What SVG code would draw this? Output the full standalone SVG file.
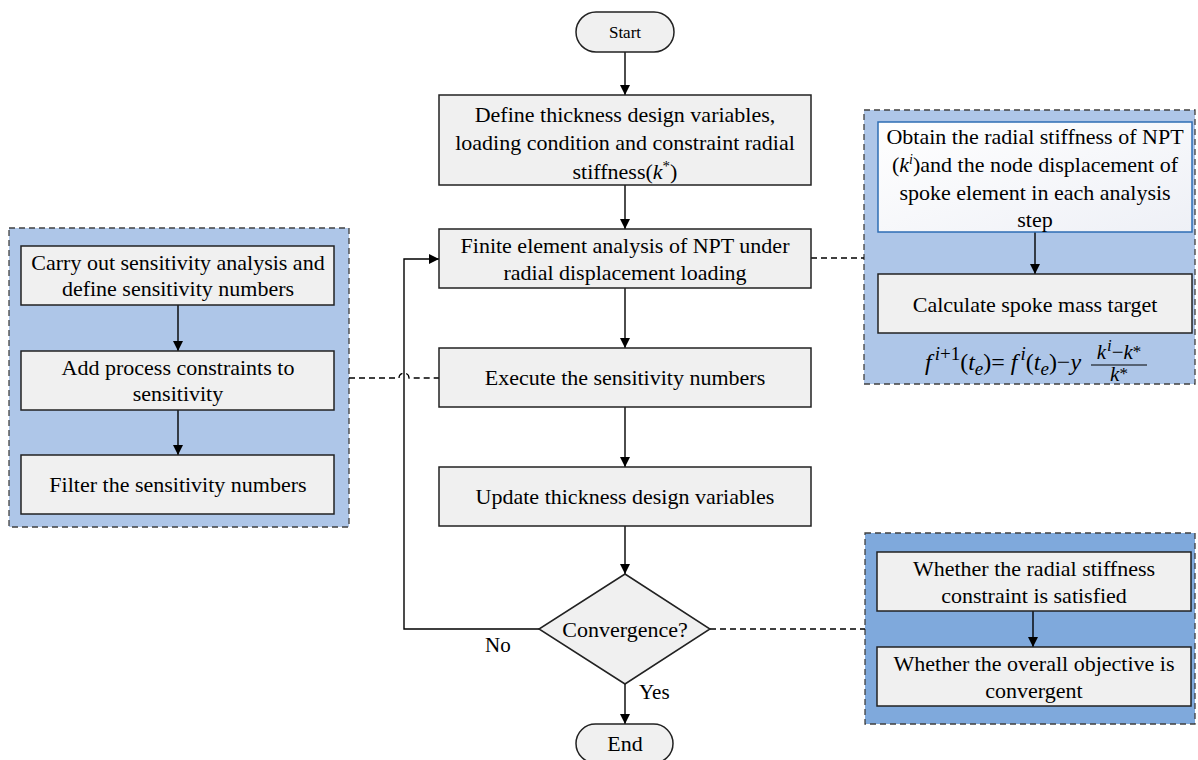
<svg xmlns="http://www.w3.org/2000/svg" width="1198" height="760" viewBox="0 0 1198 760">
<defs>
<marker id="ah" viewBox="0 0 10 10" refX="10" refY="5" markerWidth="10" markerHeight="10" markerUnits="userSpaceOnUse" orient="auto">
<path d="M0,0 L10,5 L0,10 z" fill="#000"/>
</marker>
<linearGradient id="wg" x1="0" y1="0" x2="1" y2="1">
<stop offset="0" stop-color="#ffffff"/>
<stop offset="1" stop-color="#eef0f6"/>
</linearGradient>
<style>
text{font-family:"Liberation Serif","Times New Roman",serif;fill:#000;}
.t{font-size:22px;text-anchor:middle;}
.box{fill:#f0f0f0;stroke:#222;stroke-width:1.5;}
.grp{stroke:#404040;stroke-width:1.3;stroke-dasharray:6,4;}
.g1{fill:#aec6e8;}
.g2{fill:#7fa9dc;}
.ln{fill:none;stroke:#000;stroke-width:1.4;}
.ar{fill:none;stroke:#000;stroke-width:1.4;marker-end:url(#ah);}
.da{fill:none;stroke:#000;stroke-width:1.3;stroke-dasharray:6,4;}
.it{font-style:italic;}
</style>
</defs>

<g id="group-left">
<rect class="grp g1" x="9" y="228" width="340" height="299"/>
</g>
<g id="group-top-right">
<rect class="grp g1" x="864" y="110" width="331" height="274"/>
</g>
<g id="group-bottom-right">
<rect class="grp g2" x="865" y="533" width="330" height="191"/>
</g>

<g id="connectors">
<path class="ar" d="M625,52 V95"/>
<path class="ar" d="M625,185 V229"/>
<path class="ar" d="M625,288 V348"/>
<path class="ar" d="M625,407 V467"/>
<path class="ar" d="M625,526 V574"/>
<path class="ar" d="M625,684 V724"/>
<path class="ar" d="M539,629 H404 V259 H439"/>
<path class="ar" d="M178,305 V351"/>
<path class="ar" d="M178,410 V455"/>
<path class="ar" d="M1035,232 V274"/>
<path class="ar" d="M1033,611 V647"/>
<path class="da" d="M349,378 H399 A5,5 0 0 1 409,378 H439"/>
<path class="da" d="M811,258 H864"/>
<path class="da" d="M710,629 H865"/>
</g>

<g id="start">
<rect class="box" x="576" y="12" width="98" height="40" rx="20"/>
<text x="625" y="38" style="font-size:17px;text-anchor:middle;">Start</text>
</g>

<g id="define">
<rect class="box" x="439" y="95" width="372" height="90"/>
<text class="t" x="625" y="122">Define thickness design variables,</text>
<text class="t" x="625" y="150">loading condition and constraint radial</text>
<text class="t" x="625" y="179">stiffness(<tspan class="it">k</tspan><tspan font-size="15" dy="-8">*</tspan><tspan dy="8">)</tspan></text>
</g>

<g id="fea">
<rect class="box" x="439" y="229" width="372" height="59"/>
<text class="t" x="625" y="253">Finite element analysis of NPT under</text>
<text class="t" x="625" y="280">radial displacement loading</text>
</g>

<g id="execute">
<rect class="box" x="439" y="348" width="372" height="59"/>
<text class="t" x="625" y="385">Execute the sensitivity numbers</text>
</g>

<g id="update">
<rect class="box" x="439" y="467" width="372" height="59"/>
<text class="t" x="625" y="504">Update thickness design variables</text>
</g>

<g id="convergence">
<polygon class="box" points="625,574 710,629 625,684 539,629"/>
<text class="t" x="625" y="637">Convergence?</text>
<text x="485" y="652" style="font-size:21px;">No</text>
<text x="639" y="699" style="font-size:21px;">Yes</text>
</g>

<g id="end">
<rect class="box" x="576" y="724" width="97" height="39" rx="19.5"/>
<text class="t" x="625" y="751">End</text>
</g>

<g id="carry-out">
<rect class="box" x="21" y="246" width="313" height="59"/>
<text class="t" x="178" y="270">Carry out sensitivity analysis and</text>
<text class="t" x="178" y="296">define sensitivity numbers</text>
</g>

<g id="add-constraints">
<rect class="box" x="21" y="351" width="313" height="59"/>
<text class="t" x="178" y="375">Add process constraints to</text>
<text class="t" x="178" y="401">sensitivity</text>
</g>

<g id="filter">
<rect class="box" x="21" y="455" width="313" height="59"/>
<text class="t" x="178" y="492">Filter the sensitivity numbers</text>
</g>

<g id="obtain">
<rect x="878" y="122" width="314" height="110" fill="url(#wg)" stroke="#2e6db4" stroke-width="1.5"/>
<text class="t" x="1035" y="144">Obtain the radial stiffness of NPT</text>
<text class="t" x="1035" y="172">(<tspan class="it">k</tspan><tspan class="it" font-size="14" dy="-8">i</tspan><tspan dy="8">)and the node displacement of</tspan></text>
<text class="t" x="1035" y="200">spoke element in each analysis</text>
<text class="t" x="1035" y="227">step</text>
</g>

<g id="calculate">
<rect class="box" x="878" y="274" width="314" height="59"/>
<text class="t" x="1035" y="312">Calculate spoke mass target</text>
</g>

<g id="formula">
<text x="925" y="370" style="font-size:24px;"><tspan class="it">f</tspan><tspan class="it" font-size="19" dx="3" dy="-10">i</tspan><tspan font-size="19">+1</tspan><tspan dy="10">(</tspan><tspan class="it">t</tspan><tspan class="it" font-size="19" dy="5">e</tspan><tspan dy="-5">)= </tspan><tspan class="it">f</tspan><tspan class="it" font-size="19" dx="3" dy="-10">i</tspan><tspan dy="10">(</tspan><tspan class="it">t</tspan><tspan class="it" font-size="19" dy="5">e</tspan><tspan dy="-5">)−</tspan><tspan class="it">y</tspan></text>
<text x="1119" y="359" style="font-size:21px;text-anchor:middle;"><tspan class="it">k</tspan><tspan class="it" font-size="17" dx="1" dy="-8">i</tspan><tspan dy="8">−</tspan><tspan class="it">k</tspan><tspan font-size="17" dy="-2">*</tspan></text>
<line x1="1091" y1="365" x2="1147" y2="365" stroke="#000" stroke-width="1"/>
<text x="1119" y="381" style="font-size:21px;text-anchor:middle;"><tspan class="it">k</tspan><tspan font-size="17" dy="-2">*</tspan></text>
</g>

<g id="radial-check">
<rect class="box" x="877" y="552" width="314" height="59"/>
<text class="t" x="1034" y="576">Whether the radial stiffness</text>
<text class="t" x="1034" y="603">constraint is satisfied</text>
</g>

<g id="objective-check">
<rect class="box" x="877" y="647" width="314" height="59"/>
<text class="t" x="1034" y="671">Whether the overall objective is</text>
<text class="t" x="1034" y="698">convergent</text>
</g>
</svg>
